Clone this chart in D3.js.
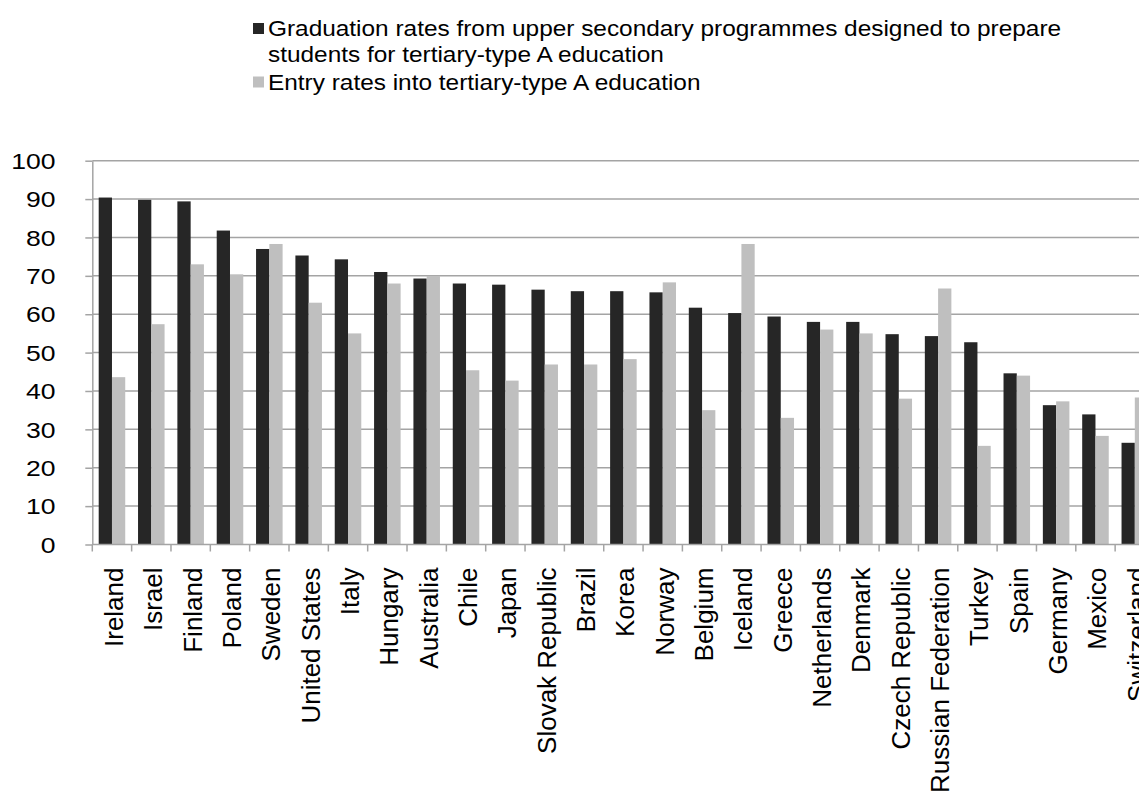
<!DOCTYPE html>
<html>
<head>
<meta charset="utf-8">
<script src="https://cdn.jsdelivr.net/npm/d3@7"></script>
<style>
  html, body { margin: 0; padding: 0; background: #fff; }
  svg { display: block; font-family: "Liberation Sans", Arial, sans-serif; }
</style>
</head>
<body>
<svg id="chart" width="1139" height="797"></svg>
<script>
// Countries, ordered by upper secondary graduation rate
const countries = [
  "Ireland", "Israel", "Finland", "Poland", "Sweden", "United States", "Italy",
  "Hungary", "Australia", "Chile", "Japan", "Slovak Republic", "Brazil", "Korea",
  "Norway", "Belgium", "Iceland", "Greece", "Netherlands", "Denmark",
  "Czech Republic", "Russian Federation", "Turkey", "Spain", "Germany",
  "Mexico", "Switzerland"
];

// Graduation rates from upper secondary programmes designed to prepare students for tertiary-type A education
const graduationRates = [
  90.4, 89.8, 89.4, 81.8, 77.0, 75.3, 74.3, 71.0, 69.3, 68.0, 67.7, 66.4, 66.0, 66.0,
  65.7, 61.7, 60.3, 59.4, 58.0, 58.0, 54.8, 54.3, 52.7, 44.6, 36.3, 33.9, 26.5
];

// Entry rates into tertiary-type A education
const entryRates = [
  43.6, 57.4, 73.0, 70.4, 78.3, 63.0, 55.0, 68.0, 70.0, 45.4, 42.7, 46.9, 46.9, 48.3,
  68.3, 35.0, 78.3, 33.0, 56.0, 55.0, 38.0, 66.7, 25.7, 44.0, 37.3, 28.3, 38.3
];

const yTicks = [0, 10, 20, 30, 40, 50, 60, 70, 80, 90, 100];

const seriesNames = [
  ["Graduation rates from upper secondary programmes designed to prepare",
   "students for tertiary-type A education"],
  ["Entry rates into tertiary-type A education"]
];
const seriesKeys = ["grad", "entry"];
const seriesColors = ["#262626", "#bfbfbf"];

(function drawChart() {
  const table = countries.map((c, i) => ({ country: c, grad: graduationRates[i], entry: entryRates[i] }));

  const svg = d3.select("#chart");
  const W = 1139;

  const plotLeft = 92.3, plotTop = 160.7, plotBottom = 544.5;
  const step = 39.34;

  const x = d3.scaleBand()
    .domain(countries)
    .range([plotLeft, plotLeft + step * countries.length])
    .padding(0);

  const barInset = 6.4;
  const xInner = d3.scaleBand()
    .domain(seriesKeys)
    .range([barInset, x.bandwidth() - barInset])
    .padding(0);

  const y = d3.scaleLinear().domain([0, 100]).range([plotBottom, plotTop]);

  const gridColor = "#a4a4a4";

  // horizontal gridlines
  svg.append("g")
    .selectAll("line")
    .data(yTicks.filter(t => t > 0))
    .join("line")
    .attr("x1", plotLeft).attr("x2", W)
    .attr("y1", d => y(d)).attr("y2", d => y(d))
    .attr("stroke", gridColor)
    .attr("stroke-width", 1.5);

  // bars
  const groups = svg.append("g")
    .selectAll("g")
    .data(table)
    .join("g")
    .attr("transform", d => `translate(${x(d.country)},0)`);

  groups.selectAll("rect")
    .data(d => seriesKeys.map((k, i) => ({ key: k, value: d[k], color: seriesColors[i] })))
    .join("rect")
    .attr("x", d => xInner(d.key))
    .attr("width", xInner.bandwidth())
    .attr("y", d => y(d.value))
    .attr("height", d => y(0) - y(d.value))
    .attr("fill", d => d.color);

  // y axis
  const yAxis = svg.append("g")
    .attr("transform", `translate(${plotLeft},0)`)
    .call(d3.axisLeft(y).tickValues(yTicks).tickSize(7).tickSizeOuter(0));
  yAxis.select(".domain").attr("stroke", gridColor).attr("stroke-width", 1.5);
  yAxis.selectAll(".tick line").attr("stroke", gridColor).attr("stroke-width", 1.5);
  const yScaleX = 1.18;
  yAxis.selectAll(".tick text")
    .attr("font-size", 22.5)
    .attr("fill", "#000")
    .attr("x", -36.8 / yScaleX)
    .attr("dy", "0.34em")
    .attr("transform", `scale(${yScaleX},1)`);

  // x axis baseline and tick marks at category boundaries
  svg.append("line")
    .attr("x1", plotLeft).attr("x2", W)
    .attr("y1", plotBottom).attr("y2", plotBottom)
    .attr("stroke", gridColor).attr("stroke-width", 1.5);

  svg.append("g")
    .selectAll("line")
    .data(countries)
    .join("line")
    .attr("x1", d => x(d)).attr("x2", d => x(d))
    .attr("y1", plotBottom).attr("y2", plotBottom + 7)
    .attr("stroke", gridColor).attr("stroke-width", 1.5);

  // rotated category labels
  const xAxis = svg.append("g")
    .attr("transform", `translate(0,${plotBottom})`)
    .call(d3.axisBottom(x).tickSize(0).tickSizeOuter(0));
  xAxis.select(".domain").remove();
  xAxis.selectAll(".tick text")
    .attr("font-size", 26)
    .attr("fill", "#000")
    .attr("text-anchor", "end")
    .attr("transform", "rotate(-90)")
    .attr("x", -23)
    .attr("y", 0)
    .attr("dy", "0.42em");

  // legend
  const legendBaselines = [[36, 62.3], [89.5]];
  const legendScaleX = 1.135;
  const legend = svg.append("g");
  seriesNames.forEach((lines, i) => {
    legend.append("rect")
      .attr("x", 253)
      .attr("y", legendBaselines[i][0] - 13)
      .attr("width", 11)
      .attr("height", 11)
      .attr("fill", seriesColors[i]);
    lines.forEach((line, j) => {
      legend.append("text")
        .attr("transform", `translate(268,${legendBaselines[i][j]}) scale(${legendScaleX},1)`)
        .attr("font-size", 21.5)
        .attr("fill", "#000")
        .text(line);
    });
  });
})();
</script>
</body>
</html>
